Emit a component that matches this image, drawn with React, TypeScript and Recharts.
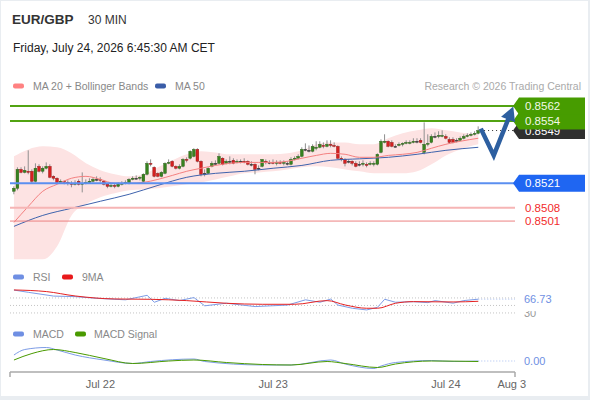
import React from "react";
import { ComposedChart, Bar, Line, Area, XAxis, YAxis, ReferenceLine } from "recharts";

const FONT = '"Liberation Sans", Arial, Helvetica, sans-serif';

// 30 min candles from Jul 21 12:00, [open, high, low, close]
const candles: [number, number, number, number][] = [
  [0.85168, 0.85194, 0.85152, 0.85184], [0.85184, 0.85295, 0.85173, 0.85284], [0.85284, 0.85295, 0.85263, 0.85268],
  [0.85268, 0.853, 0.85263, 0.85279], [0.85274, 0.85385, 0.85258, 0.85268], [0.85274, 0.85284, 0.8521, 0.85221],
  [0.85221, 0.85316, 0.85215, 0.8529], [0.853, 0.85311, 0.85268, 0.85274], [0.85274, 0.853, 0.85263, 0.8529],
  [0.8529, 0.85321, 0.85284, 0.853], [0.853, 0.85311, 0.85237, 0.85242], [0.85247, 0.85252, 0.85226, 0.85237],
  [0.85237, 0.85242, 0.8521, 0.85215], [0.85215, 0.85231, 0.8521, 0.85221], [0.85221, 0.85226, 0.85205, 0.85215],
  [0.85215, 0.85226, 0.85199, 0.8521], [0.8521, 0.85221, 0.85189, 0.85205], [0.85205, 0.85226, 0.85199, 0.8521],
  [0.85221, 0.85231, 0.85199, 0.85205], [0.85205, 0.85268, 0.85162, 0.8521], [0.8521, 0.85231, 0.85205, 0.85215],
  [0.85215, 0.85237, 0.8521, 0.85221], [0.85221, 0.85242, 0.85215, 0.85231], [0.85231, 0.85247, 0.85221, 0.85231],
  [0.85231, 0.85242, 0.85215, 0.85226], [0.85221, 0.85226, 0.85199, 0.85205], [0.85205, 0.8521, 0.85184, 0.85194],
  [0.85194, 0.8521, 0.85189, 0.85199], [0.85199, 0.8521, 0.85184, 0.85194], [0.85194, 0.85215, 0.85189, 0.85205],
  [0.85205, 0.85221, 0.85199, 0.8521], [0.8521, 0.85226, 0.85205, 0.85215], [0.8521, 0.85237, 0.85205, 0.85231],
  [0.85231, 0.85247, 0.85226, 0.85237], [0.85237, 0.85252, 0.85231, 0.85237], [0.85237, 0.85247, 0.85226, 0.85242],
  [0.85221, 0.85263, 0.85215, 0.85258], [0.85258, 0.85327, 0.85252, 0.85316], [0.85316, 0.85337, 0.853, 0.85311],
  [0.85295, 0.853, 0.85242, 0.85247], [0.85263, 0.85268, 0.85242, 0.85247], [0.85247, 0.85274, 0.85242, 0.85268],
  [0.85263, 0.85321, 0.85258, 0.85316], [0.85316, 0.85337, 0.85311, 0.85321], [0.85327, 0.85332, 0.85295, 0.853],
  [0.853, 0.85305, 0.85284, 0.8529], [0.8529, 0.85311, 0.85284, 0.853], [0.853, 0.85343, 0.85295, 0.85337],
  [0.85337, 0.85348, 0.85321, 0.85332], [0.85343, 0.85385, 0.85337, 0.8538], [0.85353, 0.85396, 0.85348, 0.8539],
  [0.8539, 0.85396, 0.85321, 0.85327], [0.85327, 0.85332, 0.85247, 0.85258], [0.85263, 0.85284, 0.85247, 0.85263],
  [0.85263, 0.85295, 0.85258, 0.8529], [0.853, 0.85327, 0.85295, 0.85316], [0.85316, 0.85332, 0.85305, 0.85316],
  [0.85316, 0.85369, 0.85311, 0.85353], [0.85343, 0.85348, 0.85305, 0.85311], [0.85316, 0.85337, 0.85311, 0.85327],
  [0.85327, 0.85353, 0.85311, 0.85327], [0.85332, 0.85343, 0.85311, 0.85316], [0.85321, 0.85337, 0.85316, 0.85327],
  [0.85327, 0.85337, 0.85316, 0.85327], [0.85327, 0.85343, 0.85316, 0.85321], [0.85327, 0.85332, 0.85305, 0.85311],
  [0.85311, 0.85327, 0.853, 0.85311], [0.85311, 0.85316, 0.85258, 0.85284], [0.8529, 0.85305, 0.85279, 0.8529],
  [0.853, 0.85337, 0.85295, 0.85337], [0.85327, 0.85337, 0.85311, 0.85321], [0.85321, 0.85332, 0.85311, 0.85321],
  [0.85321, 0.85337, 0.85311, 0.85316], [0.85316, 0.85332, 0.85305, 0.85321], [0.85321, 0.85332, 0.85311, 0.85316],
  [0.85316, 0.85332, 0.85305, 0.85321], [0.85316, 0.85327, 0.85305, 0.85316], [0.85311, 0.85348, 0.85305, 0.85337],
  [0.85337, 0.85353, 0.85332, 0.85343], [0.85343, 0.85364, 0.85337, 0.85353], [0.85353, 0.85401, 0.85348, 0.8539],
  [0.8539, 0.85422, 0.8538, 0.8539], [0.85385, 0.85411, 0.85374, 0.85385], [0.8538, 0.85417, 0.85374, 0.85406],
  [0.85396, 0.85433, 0.85385, 0.85401], [0.85401, 0.85433, 0.85396, 0.85417], [0.85411, 0.85427, 0.85396, 0.85406],
  [0.85406, 0.85438, 0.85401, 0.85417], [0.85417, 0.85438, 0.85401, 0.85411], [0.85411, 0.85427, 0.85401, 0.85406],
  [0.85406, 0.85411, 0.85337, 0.85343], [0.85343, 0.85353, 0.85327, 0.85337], [0.85337, 0.85343, 0.853, 0.85316],
  [0.85327, 0.85337, 0.85316, 0.85327], [0.85327, 0.85332, 0.85305, 0.85316], [0.85316, 0.85327, 0.85295, 0.853],
  [0.85311, 0.85327, 0.853, 0.85311], [0.85311, 0.85332, 0.853, 0.85316], [0.85311, 0.85321, 0.85295, 0.85305],
  [0.85311, 0.85327, 0.85305, 0.85316], [0.85311, 0.85327, 0.853, 0.85316], [0.85311, 0.85369, 0.85305, 0.85364],
  [0.85374, 0.85443, 0.85369, 0.85433], [0.85427, 0.8547, 0.85422, 0.85433], [0.85433, 0.85438, 0.85401, 0.85406],
  [0.85427, 0.85438, 0.85401, 0.85406], [0.85406, 0.85417, 0.85401, 0.85406], [0.85411, 0.85427, 0.85406, 0.85417],
  [0.85417, 0.85427, 0.85406, 0.85422], [0.85422, 0.85438, 0.85417, 0.85427], [0.85422, 0.85438, 0.85417, 0.85427],
  [0.85427, 0.85449, 0.85422, 0.85433], [0.85433, 0.85449, 0.85422, 0.85433], [0.85438, 0.85449, 0.85422, 0.85427],
  [0.85374, 0.85533, 0.85364, 0.85417], [0.85417, 0.8547, 0.85406, 0.85422], [0.85427, 0.8547, 0.85422, 0.85459],
  [0.85459, 0.8548, 0.85449, 0.85459], [0.85459, 0.85486, 0.85449, 0.85464], [0.85459, 0.85491, 0.85454, 0.85464],
  [0.85459, 0.8547, 0.85443, 0.85449], [0.85443, 0.85454, 0.85422, 0.85427], [0.85443, 0.85454, 0.85422, 0.85427],
  [0.85438, 0.85449, 0.85427, 0.85438], [0.85438, 0.85459, 0.85433, 0.85449], [0.85449, 0.8547, 0.85443, 0.85459],
  [0.85459, 0.85475, 0.85454, 0.85464], [0.85464, 0.8548, 0.85459, 0.8547], [0.8547, 0.85486, 0.85464, 0.85475],
  [0.85475, 0.85512, 0.8547, 0.8549],
];

// MA 20 and Bollinger Bands, sampled every 4 bars
const maIdx = [0, 4, 8, 12, 16, 20, 24, 28, 32, 36, 40, 44, 48, 52, 56, 60, 64, 68, 72, 76, 80, 84, 88, 92, 96, 100, 104, 108, 112, 116, 120, 124, 129];
const ma20 = [0.85003, 0.85088, 0.85168, 0.85205, 0.85237, 0.85247, 0.85231, 0.8521, 0.8521, 0.85215, 0.85231, 0.85252, 0.85274, 0.8529, 0.85305, 0.85316, 0.85321, 0.85321, 0.85321, 0.85327, 0.85343, 0.85358, 0.85369, 0.85364, 0.85348, 0.85348, 0.85358, 0.85364, 0.85374, 0.85396, 0.85417, 0.85433, 0.85449];
const bbUpper = [0.85353, 0.8539, 0.85406, 0.85401, 0.85369, 0.85316, 0.85279, 0.85258, 0.85247, 0.85258, 0.85295, 0.85332, 0.85364, 0.8538, 0.85374, 0.85364, 0.85364, 0.85364, 0.85364, 0.85369, 0.85385, 0.85417, 0.85427, 0.85427, 0.85417, 0.85417, 0.85449, 0.85475, 0.85491, 0.85502, 0.85491, 0.8548, 0.8547];
const bbLower = [0.84807, 0.84807, 0.84807, 0.84876, 0.8504, 0.85099, 0.85136, 0.85157, 0.85173, 0.85178, 0.85184, 0.85194, 0.85205, 0.85215, 0.85231, 0.85247, 0.85263, 0.85268, 0.85274, 0.85284, 0.85295, 0.853, 0.85295, 0.85284, 0.85274, 0.85263, 0.85263, 0.85263, 0.85274, 0.85311, 0.85358, 0.8539, 0.85417];

const ma50Idx = [0, 8, 16, 24, 32, 40, 48, 56, 64, 72, 80, 88, 96, 104, 112, 120, 129];
const ma50 = [0.84982, 0.8504, 0.85078, 0.85115, 0.85152, 0.85199, 0.85242, 0.85263, 0.85274, 0.8529, 0.85305, 0.85332, 0.8534, 0.85348, 0.85364, 0.85385, 0.85401];

const rsiIdx = [0, 4, 11, 17, 23, 31, 37, 39, 42, 46, 50, 53, 59, 67, 76, 81, 85, 88, 90, 94, 98, 101, 103, 106, 111, 115, 117, 122, 125, 129];
const rsi = [91, 85, 75, 73.5, 69, 65, 77, 58.5, 69, 63, 71, 49, 56, 47, 51, 65, 58.5, 67, 51, 42.5, 38, 45, 66.5, 58.5, 60, 57.5, 63, 56, 63, 66.73];
const rsiMaIdx = [0, 9, 17, 28, 38, 48, 59, 69, 78, 87, 92, 98, 101, 106, 111, 122, 129];
const rsiMa = [91.3, 87, 75.3, 67.3, 66.4, 62.9, 55.8, 53.1, 53.1, 62.9, 51.3, 42.5, 42.5, 55.8, 60.2, 59.3, 61.1];

const macdIdx = [0, 3, 9, 12, 17, 25, 33, 38, 50, 53, 69, 77, 88, 92, 100, 102, 106, 116, 122, 129];
const macd = [0.00012, 0.00023, 0.00027, 0.00022, 0.00012, 0.00002, -0.00005, -0.00001, 0.00004, -0.00001, -0.00008, -0.00008, 0.00002, -0.00006, -0.00015, -0.0001, -0.00003, 0.00001, -0.00001, 0];
const signalIdx = [0, 5, 11, 17, 25, 33, 43, 50, 59, 69, 77, 87, 92, 101, 106, 116, 129];
const signal = [0.00002, 0.00015, 0.00023, 0.00017, 0.00005, -0.00005, 0, 0.00002, -0.00003, -0.00007, -0.00008, -0.00001, -0.00005, -0.00013, -0.00006, 0, -0.00001];

// key levels
const resistances = [0.8562, 0.8554];
const pivot = 0.8521;
const supports = [0.8508, 0.8501];

// expected path: pullback then move up
const forecastIdx = [129.7, 133.3, 138.1];
const forecastPrice = [0.855, 0.85358, 0.85588];

const dayTicks = [24, 72, 120, 138.3];
const dayLabels = ["Jul 22", "Jul 23", "Jul 24", "Aug 3"];

const X_DOMAIN: [number, number] = [-1.1, 139.2];
const PRICE_DOMAIN: [number, number] = [0.84793, 0.85673];
const MARGIN = { left: 10, right: 75 };

const candleRows = candles.map(([o, h, l, c], i) => ({ i, o, h, l, c, range: [l, h] }));
const rows = (idx: number[], vals: number[]) => idx.map((i, k) => ({ i, v: vals[k] }));
const bandRows = maIdx.map((i, k) => ({ i, band: [bbLower[k], bbUpper[k]] }));
const lastClose = candles[candles.length - 1][3];
const lastIdx = candles.length - 1;

function Candle(props: any) {
  const { x, y, width, height, payload } = props;
  if (x == null || !payload) return <g />;
  const { o, h, l, c } = payload;
  const k = h > l ? height / (h - l) : 0;
  const mid = x + width / 2;
  const top = y + (h - Math.max(o, c)) * k;
  const bot = y + (h - Math.min(o, c)) * k;
  const flat = Math.abs(c - o) < 0.000005;
  const up = c > o;
  const fill = flat ? "#333" : up ? "#37821f" : "#d42020";
  const stroke = flat ? "#333" : up ? "#275a16" : "#8c1414";
  return (
    <g>
      <line x1={mid} x2={mid} y1={y} y2={y + height} stroke="#8f8f8f" strokeWidth={1} />
      <rect x={mid - 1.4} y={top} width={2.8} height={Math.max(bot - top, 1)} fill={fill} stroke={stroke} strokeWidth={0.4} />
    </g>
  );
}

// tag on the right of a level line
function PriceTag(props: any) {
  const { viewBox, text, fill, color } = props;
  if (!viewBox) return null;
  const left = viewBox.x + viewBox.width + 4;
  const y = viewBox.y;
  return (
    <g>
      {fill && (
        <path d={`M${left - 6},${y} L${left},${y - 8.5} H${left + 66} V${y + 8.5} H${left} Z`} fill={fill} />
      )}
      <text x={left + 6} y={y} dy="0.36em" fill={color} fontSize={11.5} fontFamily={FONT}>
        {text}
      </text>
    </g>
  );
}

// value printed in the right margin of the indicator panels;
// the white backing hides whatever level text sits just below it
function SideValue(props: any) {
  const { viewBox, text, color, bg } = props;
  if (!viewBox) return null;
  const left = viewBox.x + viewBox.width + 9;
  const y = viewBox.y;
  return (
    <g>
      {bg && <rect x={left - 2} y={y - 8} width={40} height={20} fill="#fff" />}
      <text x={left} y={y} dy="0.36em" fill={color} fontSize={11} fontFamily={FONT}>
        {text}
      </text>
    </g>
  );
}

function ArrowHead(props: any) {
  const { cx, cy, index } = props;
  if (index !== forecastIdx.length - 1 || cx == null) return <g key={`p${index}`} />;
  return (
    <polygon
      key="head"
      points="6,0 -8,-7.5 -8,7.5"
      transform={`translate(${cx},${cy}) rotate(-68)`}
      fill="#2d5fa0"
    />
  );
}

function AxisTick(props: any) {
  const { x, y, payload } = props;
  const k = dayTicks.indexOf(payload.value);
  if (k < 0) return <line x1={x} x2={x} y1={y - 8} y2={y - 3} stroke="#aaa" strokeWidth={1.5} />;
  return (
    <text x={x} y={y} dy="0.71em" textAnchor="middle" fill="#666" fontSize={11} fontFamily={FONT}>
      {dayLabels[k]}
    </text>
  );
}

function Swatch({ x, y, color }: { x: number; y: number; color: string }) {
  return <rect x={x} y={y - 2.5} width={11} height={5} rx={2} fill={color} />;
}

function PriceChart() {
  return (
    <ComposedChart width={590} height={270} data={candleRows} margin={{ top: 96, bottom: 8, ...MARGIN }}>
      <XAxis dataKey="i" type="number" domain={X_DOMAIN} hide />
      <YAxis type="number" domain={PRICE_DOMAIN} hide />
      <Area data={bandRows} dataKey="band" type="monotone" stroke="none" fill="#fde3e3" fillOpacity={1} isAnimationActive={false} />
      <Line data={rows(ma50Idx, ma50)} dataKey="v" type="monotone" stroke="#3f63ad" strokeWidth={1} dot={false} activeDot={false} isAnimationActive={false} />
      <Line data={rows(maIdx, ma20)} dataKey="v" type="monotone" stroke="#f48080" strokeWidth={1} dot={false} activeDot={false} isAnimationActive={false} />
      <Bar dataKey="range" barSize={3} shape={(p: any) => <Candle {...p} />} isAnimationActive={false} />

      <ReferenceLine y={supports[1]} stroke="#ec8282" strokeWidth={1} label={<PriceTag text={supports[1].toFixed(4)} color="#f22c2c" />} />
      <ReferenceLine y={supports[0]} stroke="#f6b5b5" strokeWidth={2} label={<PriceTag text={supports[0].toFixed(4)} color="#f22c2c" />} />
      <ReferenceLine y={pivot} stroke="#5b8ff0" strokeWidth={2} label={<PriceTag text={pivot.toFixed(4)} fill="#1f66f2" color="#fff" />} />
      <ReferenceLine y={lastClose} stroke="none" label={<PriceTag text={lastClose.toFixed(4)} fill="#2f2f2f" color="#fff" />} />
      <ReferenceLine
        segment={[{ x: lastIdx + 0.5, y: lastClose }, { x: X_DOMAIN[1], y: lastClose }]}
        stroke="#333"
        strokeDasharray="1 3"
      />
      <ReferenceLine y={resistances[1]} stroke="#52a312" strokeWidth={2} label={<PriceTag text={resistances[1].toFixed(4)} fill="#479c00" color="#f2f9e6" />} />
      <ReferenceLine y={resistances[0]} stroke="#52a312" strokeWidth={2} label={<PriceTag text={resistances[0].toFixed(4)} fill="#479c00" color="#f2f9e6" />} />

      <Line
        data={forecastIdx.map((i, k) => ({ i, v: forecastPrice[k] }))}
        dataKey="v"
        type="linear"
        stroke="#2d5fa0"
        strokeWidth={4.5}
        strokeLinejoin="miter"
        dot={(p: any) => <ArrowHead {...p} />}
        activeDot={false}
        isAnimationActive={false}
      />
    </ComposedChart>
  );
}

function RsiChart() {
  const last = rsi[rsi.length - 1];
  return (
    <ComposedChart width={590} height={60} margin={{ top: 16.7, bottom: 5.8, ...MARGIN }}>
      <XAxis dataKey="i" type="number" domain={X_DOMAIN} hide />
      <YAxis type="number" domain={[0, 100]} hide />
      <ReferenceLine y={70} stroke="#c4c4c4" strokeDasharray="1 2" />
      <ReferenceLine y={50} stroke="#c4c4c4" strokeDasharray="1 2" />
      <ReferenceLine y={30} stroke="#c4c4c4" strokeDasharray="1 2" label={<SideValue text="30" color="#999" />} />
      <ReferenceLine
        segment={[{ x: lastIdx, y: last }, { x: X_DOMAIN[1], y: last }]}
        stroke="#a9bff0"
        strokeDasharray="1 2"
        label={<SideValue text={last.toFixed(2)} color="#6f8fe3" bg />}
      />
      <Line data={rows(rsiIdx, rsi)} dataKey="v" type="linear" stroke="#7d9ce6" strokeWidth={1} dot={false} activeDot={false} isAnimationActive={false} />
      <Line data={rows(rsiMaIdx, rsiMa)} dataKey="v" type="monotone" stroke="#e52222" strokeWidth={1} dot={false} activeDot={false} isAnimationActive={false} />
    </ComposedChart>
  );
}

function MacdChart() {
  const last = macd[macd.length - 1];
  return (
    <ComposedChart width={590} height={70} margin={{ top: 10, bottom: 0, ...MARGIN }}>
      <XAxis
        dataKey="i"
        type="number"
        domain={X_DOMAIN}
        ticks={[X_DOMAIN[0], ...dayTicks, X_DOMAIN[1]]}
        interval={0}
        tickLine={false}
        axisLine={{ stroke: "#aaa", strokeWidth: 1.5 }}
        tick={(p: any) => <AxisTick {...p} />}
        height={28}
      />
      <YAxis type="number" domain={[-0.00022, 0.00042]} hide />
      <ReferenceLine
        segment={[{ x: lastIdx, y: last }, { x: X_DOMAIN[1], y: last }]}
        stroke="#a9bff0"
        strokeDasharray="1 2"
        label={<SideValue text={last.toFixed(2)} color="#6f8fe3" />}
      />
      <Line data={rows(macdIdx, macd)} dataKey="v" type="monotone" stroke="#7d9ce6" strokeWidth={1} dot={false} activeDot={false} isAnimationActive={false} />
      <Line data={rows(signalIdx, signal)} dataKey="v" type="monotone" stroke="#4a9a00" strokeWidth={1} dot={false} activeDot={false} isAnimationActive={false} />
    </ComposedChart>
  );
}

export default function App() {
  return (
    <div style={{ position: "absolute", left: 0, top: 0, width: 590, height: 400, background: "#e9edf1", fontFamily: FONT }}>
      <div style={{ position: "absolute", left: 1, top: 1, width: 587, height: 395, background: "#fff" }} />
      <svg width={590} height={400} style={{ position: "absolute", left: 0, top: 0 }} fontFamily={FONT}>
        <text x={12} y={24} fontSize={13.5} fontWeight="bold" fill="#333">EUR/GBP</text>
        <text x={88} y={23.5} fontSize={12} fill="#333">30 MIN</text>
        <text x={13} y={52} fontSize={12} fill="#222">Friday, July 24, 2026 6:45:30 AM CET</text>

        <Swatch x={13} y={86} color="#ff8282" />
        <text x={33} y={90} fontSize={10.5} fill="#888">MA 20 + Bollinger Bands</text>
        <Swatch x={155} y={86} color="#3a5da8" />
        <text x={175} y={90} fontSize={10.5} fill="#888">MA 50</text>
        <text x={581} y={90} fontSize={10.5} fill="#aaa" textAnchor="end">Research © 2026 Trading Central</text>

        <Swatch x={13} y={277} color="#6f8fe3" />
        <text x={33} y={281} fontSize={10.5} fill="#888">RSI</text>
        <Swatch x={62} y={277} color="#e8191b" />
        <text x={82} y={281} fontSize={10.5} fill="#888">9MA</text>

        <Swatch x={13} y={334} color="#6f8fe3" />
        <text x={33} y={338} fontSize={10.5} fill="#888">MACD</text>
        <Swatch x={75} y={334} color="#4a9a00" />
        <text x={94} y={338} fontSize={10.5} fill="#888">MACD Signal</text>
      </svg>
      <div style={{ position: "absolute", left: 0, top: 0 }}>
        <PriceChart />
      </div>
      <div style={{ position: "absolute", left: 0, top: 270 }}>
        <RsiChart />
      </div>
      <div style={{ position: "absolute", left: 0, top: 330 }}>
        <MacdChart />
      </div>
    </div>
  );
}
